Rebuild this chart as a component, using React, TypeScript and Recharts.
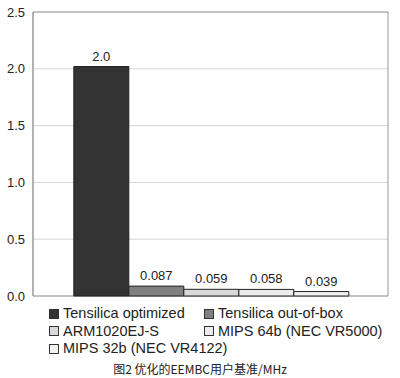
import { BarChart, Bar, XAxis, YAxis, CartesianGrid, LabelList, ReferenceArea } from "recharts";

const seriesNames = [
  "Tensilica optimized",
  "Tensilica out-of-box",
  "ARM1020EJ-S",
  "MIPS 64b (NEC VR5000)",
  "MIPS 32b (NEC VR4122)",
];
const seriesKeys = ["s0", "s1", "s2", "s3", "s4"];
const seriesValues = [2.02, 0.087, 0.059, 0.058, 0.039];
const seriesLabels = ["2.0", "0.087", "0.059", "0.058", "0.039"];
const seriesColors = ["#333333", "#808080", "#d9d9d9", "#ececec", "#f2f2f2"];
const yTicks = [0, 0.5, 1.0, 1.5, 2.0, 2.5];
const caption = "图2 优化的EEMBC用户基准/MHz";

const row: Record<string, number | string> = { name: "EEMBC" };
seriesKeys.forEach((k, i) => (row[k] = seriesValues[i]));
const data = [row];

const font = "'Liberation Sans', Arial, sans-serif";

export default function App() {
  return (
    <div style={{ position: "absolute", left: 0, top: 0, width: 400, height: 378, background: "#fff", fontFamily: font }}>
      <BarChart
        width={400}
        height={306}
        data={data}
        margin={{ top: 12, right: 12, bottom: 10, left: 0 }}
        barGap={0}
        barCategoryGap="11.5%"
      >
        <CartesianGrid vertical={false} stroke="#d6d6d6" />
        <XAxis dataKey="name" hide />
        <YAxis
          domain={[0, 2.5]}
          ticks={yTicks}
          tickFormatter={(v: number) => v.toFixed(1)}
          tick={{ fontSize: 13, fill: "#222", fontFamily: font }}
          tickLine={false}
          axisLine={{ stroke: "#999" }}
          width={33}
          interval={0}
        />
        <ReferenceArea y1={0} y2={2.5} fill="none" stroke="#999" strokeWidth={1} />
        {seriesKeys.map((k, i) => (
          <Bar key={k} dataKey={k} fill={seriesColors[i]} stroke="#222" strokeWidth={1} isAnimationActive={false}>
            <LabelList
              dataKey={k}
              position="top"
              offset={6}
              formatter={() => seriesLabels[i]}
              style={{ fontSize: 13, fill: "#222", fontFamily: font }}
            />
          </Bar>
        ))}
      </BarChart>
      <div
        style={{
          position: "absolute",
          left: 49,
          top: 306,
          display: "grid",
          gridTemplateColumns: "155px 185px",
          rowGap: 2,
          fontSize: 14.5,
          color: "#222",
          lineHeight: "15.5px",
        }}
      >
        {seriesNames.map((n, i) => (
          <div key={n} style={{ display: "flex", alignItems: "center", whiteSpace: "nowrap" }}>
            <span
              style={{
                display: "inline-block",
                flexShrink: 0,
                width: 8,
                height: 8,
                marginRight: 4,
                background: seriesColors[i],
                border: "1px solid #333",
              }}
            />
            {n}
          </div>
        ))}
      </div>
      <div
        style={{
          position: "absolute",
          left: 0,
          width: 400,
          top: 360,
          textAlign: "center",
          fontSize: 12,
          fontFamily: "'Noto Sans CJK SC', sans-serif",
          color: "#222",
        }}
      >
        {caption}
      </div>
    </div>
  );
}
